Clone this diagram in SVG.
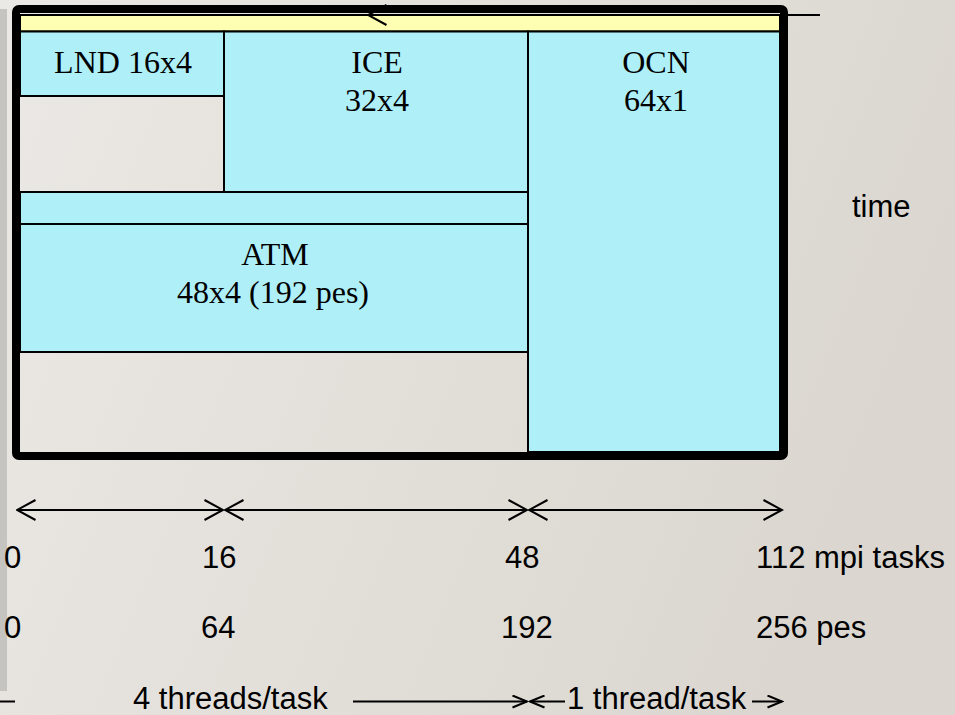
<svg xmlns="http://www.w3.org/2000/svg" width="955" height="715" viewBox="0 0 955 715">
  <defs>
    <linearGradient id="bg" x1="0" y1="0" x2="1" y2="0.3">
      <stop offset="0" stop-color="#ebe9e5"/>
      <stop offset="1" stop-color="#dbd7d0"/>
    </linearGradient>
    <marker id="arr" markerUnits="userSpaceOnUse" viewBox="0 0 21 22" refX="19.5" refY="11" markerWidth="21" markerHeight="22" orient="auto-start-reverse">
      <path d="M1,1 L19.5,11 L1,21" fill="none" stroke="#000" stroke-width="2"/>
    </marker>
    <marker id="arrs" markerUnits="userSpaceOnUse" viewBox="0 0 17 14" refX="15.5" refY="7" markerWidth="17" markerHeight="14" orient="auto-start-reverse">
      <path d="M1,1 L15.5,7 L1,13" fill="none" stroke="#000" stroke-width="2"/>
    </marker>
    <style>
      .box { fill: #aeeff8; stroke: #000; stroke-width: 2; }
      .yel { fill: #ffffb3; stroke: #000; stroke-width: 2; }
      .frame { fill: none; stroke: #000; stroke-width: 8; }
      .ln { stroke: #000; stroke-width: 2; fill: none; }
      .serif { font-family: "Liberation Serif", "Times New Roman", serif; font-size: 32px; fill: #000; text-anchor: middle; }
      .sans { font-family: "Liberation Sans", Arial, sans-serif; font-size: 31px; fill: #000; }
    </style>
  </defs>

  <rect x="0" y="0" width="955" height="715" fill="url(#bg)"/>
  <rect x="0" y="9" width="7" height="682" fill="#c6c4c0"/>

  <g id="yellow-band">
    <rect class="yel" x="20" y="15" width="760" height="16.5"/>
  </g>
  <g id="lnd">
    <rect class="box" x="20" y="31.5" width="204" height="64.5"/>
    <text class="serif" x="123" y="73">LND 16x4</text>
  </g>
  <g id="ice">
    <rect class="box" x="224" y="31.5" width="304" height="160.5"/>
    <text class="serif" x="377" y="73">ICE</text>
    <text class="serif" x="377" y="111">32x4</text>
  </g>
  <g id="band">
    <rect class="box" x="20" y="192" width="508" height="32"/>
  </g>
  <g id="atm">
    <rect class="box" x="20" y="224" width="508" height="128"/>
    <text class="serif" x="275" y="265">ATM</text>
    <text class="serif" x="273" y="303">48x4 (192 pes)</text>
  </g>
  <g id="ocn">
    <rect class="box" x="528" y="31.5" width="252" height="420.5"/>
    <text class="serif" x="656" y="73">OCN</text>
    <text class="serif" x="656" y="111">64x1</text>
  </g>

  <g id="connectors">
    <line class="ln" x1="820" y1="15" x2="368" y2="15" marker-end="url(#arr)"/>
    <line class="ln" x1="17" y1="510" x2="223" y2="510" marker-start="url(#arr)" marker-end="url(#arr)"/>
    <line class="ln" x1="225" y1="510" x2="527" y2="510" marker-start="url(#arr)" marker-end="url(#arr)"/>
    <line class="ln" x1="529" y1="510" x2="782" y2="510" marker-start="url(#arr)" marker-end="url(#arr)"/>
    <line class="ln" x1="0" y1="701.5" x2="15" y2="701.5"/>
    <line class="ln" x1="353" y1="701.5" x2="527" y2="701.5" marker-end="url(#arrs)"/>
    <line class="ln" x1="565" y1="701.5" x2="530" y2="701.5" marker-end="url(#arrs)"/>
    <line class="ln" x1="752" y1="701.5" x2="782" y2="701.5" marker-end="url(#arrs)"/>
  </g>

  <g id="frame">
    <rect class="frame" x="16" y="9" width="768" height="447" rx="3"/>
  </g>

  <g id="labels">
    <text class="sans" x="852" y="217">time</text>
    <text class="sans" x="4" y="568">0</text>
    <text class="sans" x="202" y="568">16</text>
    <text class="sans" x="505" y="568">48</text>
    <text class="sans" x="756" y="568">112 mpi tasks</text>
    <text class="sans" x="4" y="638">0</text>
    <text class="sans" x="201" y="638">64</text>
    <text class="sans" x="501" y="638">192</text>
    <text class="sans" x="756" y="638">256 pes</text>
    <text class="sans" x="133" y="709">4 threads/task</text>
    <text class="sans" x="567" y="709">1 thread/task</text>
  </g>
</svg>
